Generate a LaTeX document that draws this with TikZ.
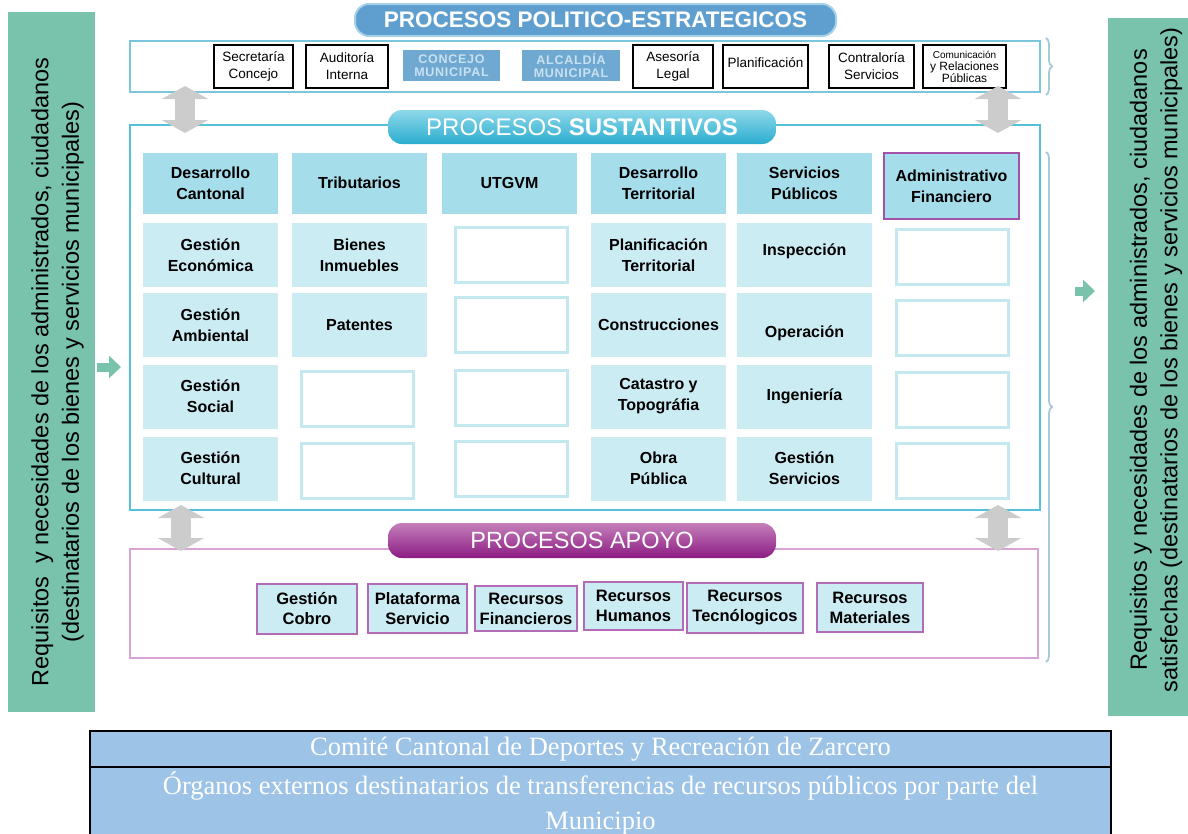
\documentclass[tikz,border=0pt]{standalone}
\usepackage{fontspec}
\setmainfont{Liberation Sans}
\newfontfamily\tablerm{Liberation Serif}
\usetikzlibrary{arrows.meta,decorations.pathreplacing}

\definecolor{sidegreen}{HTML}{79C2AC}
\definecolor{polblue}{HTML}{5F9FCF}
\definecolor{polline}{HTML}{A4D0E8}
\definecolor{stripline}{HTML}{7BC5DD}
\definecolor{sustline}{HTML}{56C0D8}
\definecolor{susttop}{HTML}{8FD8EA}
\definecolor{sustbot}{HTML}{2AADCF}
\definecolor{apoyotop}{HTML}{C480BA}
\definecolor{apoyobot}{HTML}{8C1B83}
\definecolor{apoyoline}{HTML}{D8A4D5}
\definecolor{headfill}{HTML}{A6DDEA}
\definecolor{cellfill}{HTML}{CCECF3}
\definecolor{emptyline}{HTML}{C4E8F0}
\definecolor{purpleline}{HTML}{B36BB5}
\definecolor{adminline}{HTML}{A452A9}
\definecolor{orgblue}{HTML}{6FA8D1}
\definecolor{orgtext}{HTML}{C8E1F1}
\definecolor{tablefill}{HTML}{9DC3E6}
\definecolor{bracecol}{HTML}{A8C8DC}

\tikzset{
  sidetext/.style={rotate=90, inner sep=0pt, align=center,
    font=\fontsize{23.5}{30.5}\selectfont},
  banner/.style={rounded corners=14pt, inner sep=0pt, text=white},
  frame/.style={draw, line width=2pt, inner sep=0pt, minimum width=910pt},
  topbox/.style={draw=black, line width=1.3pt, fill=white, inner sep=0pt,
    minimum height=43pt, align=center, font=\fontsize{13.5}{17}\selectfont},
  orgbox/.style={fill=orgblue, text=orgtext, inner sep=0pt, minimum height=31pt,
    align=center, font=\fontsize{12.5}{13}\selectfont\bfseries\addfontfeature{LetterSpace=6}},
  headbox/.style={fill=headfill, inner sep=0pt, minimum width=135pt, minimum height=61pt,
    align=center, font=\fontsize{16}{21}\selectfont\bfseries},
  cellbox/.style={headbox, fill=cellfill, minimum height=64pt},
  emptybox/.style={draw=emptyline, line width=3pt, fill=white, minimum width=112pt,
    minimum height=55pt},
  apoyobox/.style={draw=purpleline, line width=1.5pt, fill=cellfill, inner sep=0pt,
    align=center, font=\fontsize{16.5}{20}\selectfont\bfseries},
  tablerow/.style={draw=black, line width=1.5pt, fill=tablefill, text=white, inner sep=0pt,
    minimum width=1021pt, align=center, font=\tablerm\fontsize{26.5}{35}\selectfont},
  dblarrow/.style={draw=gray!40, line width=20pt,
    {Triangle[width=46pt,length=13pt]}-{Triangle[width=46pt,length=13pt]}},
  inarrow/.style={draw=sidegreen, line width=9pt, -{Triangle[width=22pt,length=12pt]}},
  bracemark/.style={draw=bracecol, line width=1.8pt, decorate, decoration={brace, amplitude=6pt}}
}

\begin{document}
\begin{tikzpicture}[x=1pt, y=-1pt]
  \useasboundingbox (0,0) rectangle (1188,833);

  % Side bars
  \fill[sidegreen] (8,12) rectangle (95,712);
  \fill[sidegreen] (1108,18) rectangle (1188,716);
  \node[sidetext] (inText) at (57.5,372)
    {Requisitos \ y necesidades de los administrados, ciudadanos\\(destinatarios de los bienes y servicios municipales)};
  \node[sidetext] (outText) at (1156,360)
    {Requisitos y necesidades de los administrados, ciudadanos\\satisfechas (destinatarios de los bienes y servicios municipales)};

  % Frames
  \node[frame, draw=stripline, minimum height=51pt] (strip) at (585,66.5) {};
  \node[frame, draw=sustline, minimum height=385pt] (sust) at (585,317.5) {};
  \node[frame, draw=apoyoline, minimum width=908pt, minimum height=109pt] (apoyo) at (584,603.5) {};

  % Banners
  \node[banner, fill=polblue, draw=polline, line width=2pt, minimum width=481pt, minimum height=32pt,
    font=\fontsize{22.5}{24}\selectfont\bfseries] (polTitle) at (595.5,20) {PROCESOS POLITICO-ESTRATEGICOS};
  \node[banner, top color=susttop, bottom color=sustbot, minimum width=388pt, minimum height=34pt,
    font=\fontsize{24}{26}\selectfont] (sustTitle) at (582,127) {PROCESOS \textbf{SUSTANTIVOS}};
  \node[banner, top color=apoyotop, bottom color=apoyobot, minimum width=388pt, minimum height=35pt,
    font=\fontsize{23.5}{26}\selectfont] (apoyoTitle) at (582,540.5) {PROCESOS APOYO};

  % Politico-estrategicos
  \node[topbox, minimum width=79pt] (secretaria) at (253.5,66.5) {Secretaría\\Concejo};
  \node[topbox, minimum width=82pt] (auditoria) at (347,66.5) {Auditoría\\Interna};
  \node[orgbox, minimum width=97pt] (concejo) at (451.5,65.5) {CONCEJO\\MUNICIPAL};
  \node[orgbox, minimum width=98pt] (alcaldia) at (571,65.5) {ALCALDÍA\\MUNICIPAL};
  \node[topbox, minimum width=80pt] (asesoria) at (673,66.5) {Asesoría\\Legal};
  \node[topbox, minimum width=85pt, text depth=8pt] (planif) at (765.5,66.5) {Planificación};
  \node[topbox, minimum width=85pt] (contraloria) at (871.5,66.5) {Contraloría\\Servicios};
  \node[topbox, minimum width=83pt, font=\fontsize{10}{12}\selectfont] (comunic) at (964.5,66.5)
    {Comunicación\\\fontsize{12}{13}\selectfont y Relaciones\\\fontsize{12}{8}\selectfont Públicas};

  % Sustantivos: headers
  \node[headbox] (desCant) at (210.5,183) {Desarrollo\\Cantonal};
  \node[headbox] (tributarios) at (359.5,183) {Tributarios};
  \node[headbox] (utgvm) at (509.5,183) {UTGVM};
  \node[headbox] (desTerr) at (658.5,183) {Desarrollo\\Territorial};
  \node[headbox] (servPub) at (804.5,183) {Servicios\\Públicos};
  \node[headbox, draw=adminline, line width=2pt, minimum height=66pt] (admFin) at (951.5,186) {Administrativo\\Financiero};

  % Sustantivos: cells
  \node[cellbox] (gestEco) at (210.5,255) {Gestión\\Económica};
  \node[cellbox] (gestAmb) at (210.5,325) {Gestión\\Ambiental};
  \node[cellbox] (gestSoc) at (210.5,396.5) {Gestión\\Social};
  \node[cellbox] (gestCul) at (210.5,468.5) {Gestión\\Cultural};
  \node[cellbox] (bienes) at (359.5,255) {Bienes\\Inmuebles};
  \node[cellbox] (patentes) at (359.5,325) {Patentes};
  \node[cellbox] (planTerr) at (658.5,255) {Planificación\\Territorial};
  \node[cellbox] (construc) at (658.5,325) {Construcciones};
  \node[cellbox] (catastro) at (658.5,396.5) {Catastro y\\Topográfia};
  \node[cellbox] (obra) at (658.5,468.5) {Obra\\Pública};
  \node[cellbox, text depth=10pt] (inspeccion) at (804.5,255) {Inspección};
  \node[cellbox, text height=28pt] (operacion) at (804.5,325) {Operación};
  \node[cellbox] (ingenieria) at (804.5,396.5) {Ingeniería};
  \node[cellbox] (gestServ) at (804.5,468.5) {Gestión\\Servicios};

  % Sustantivos: empty boxes
  \node[emptybox] (empB3) at (357.5,399) {};
  \node[emptybox] (empB4) at (357.5,471) {};
  \node[emptybox] (empC1) at (511.5,254.5) {};
  \node[emptybox] (empC2) at (511.5,325) {};
  \node[emptybox] (empC3) at (511.5,397.5) {};
  \node[emptybox] (empC4) at (511.5,469) {};
  \node[emptybox] (empF1) at (952.5,257) {};
  \node[emptybox] (empF2) at (952.5,328) {};
  \node[emptybox] (empF3) at (952.5,399.5) {};
  \node[emptybox] (empF4) at (952.5,470.5) {};

  % Apoyo
  \node[apoyobox, minimum width=100pt, minimum height=50pt] (cobro) at (307,609) {Gestión\\Cobro};
  \node[apoyobox, minimum width=99pt, minimum height=49pt] (plataforma) at (417.5,608.5) {Plataforma\\Servicio};
  \node[apoyobox, minimum width=102pt, minimum height=45pt] (recFin) at (526,608.5) {Recursos\\Financieros};
  \node[apoyobox, minimum width=99pt, minimum height=48pt] (recHum) at (633.5,606) {Recursos\\Humanos};
  \node[apoyobox, minimum width=116pt, minimum height=50pt] (recTec) at (745,608) {Recursos\\Tecnólogicos};
  \node[apoyobox, minimum width=106pt, minimum height=49pt] (recMat) at (870,607.5) {Recursos\\Materiales};

  % Braces
  \draw[bracemark] (1046,38) -- (1046,95);
  \draw[bracemark] (1046,152) -- (1046,662);

  % Gray double arrows
  \coordinate (gTL1) at (185,86);  \coordinate (gTL2) at (185,133);
  \coordinate (gTR1) at (998,86);  \coordinate (gTR2) at (998,133);
  \coordinate (gBL1) at (181,505); \coordinate (gBL2) at (181,551);
  \coordinate (gBR1) at (998,505); \coordinate (gBR2) at (998,551);
  \draw[dblarrow] (gTL1) -- (gTL2);
  \draw[dblarrow] (gTR1) -- (gTR2);
  \draw[dblarrow] (gBL1) -- (gBL2);
  \draw[dblarrow] (gBR1) -- (gBR2);

  % Green arrows
  \coordinate (inA) at (97,367);   \coordinate (inB) at (121,367);
  \coordinate (outA) at (1075,291); \coordinate (outB) at (1095,291);
  \draw[inarrow] (inA) -- (inB);
  \draw[inarrow] (outA) -- (outB);

  % External organs table
  \node[tablerow, minimum height=36pt] (comite) at (600.5,749) {Comité Cantonal de Deportes y Recreación de Zarcero};
  \node[tablerow, minimum height=72pt] (organos) at (600.5,803)
    {Órganos externos destinatarios de transferencias de recursos públicos por parte del\\Municipio};
\end{tikzpicture}
\end{document}
